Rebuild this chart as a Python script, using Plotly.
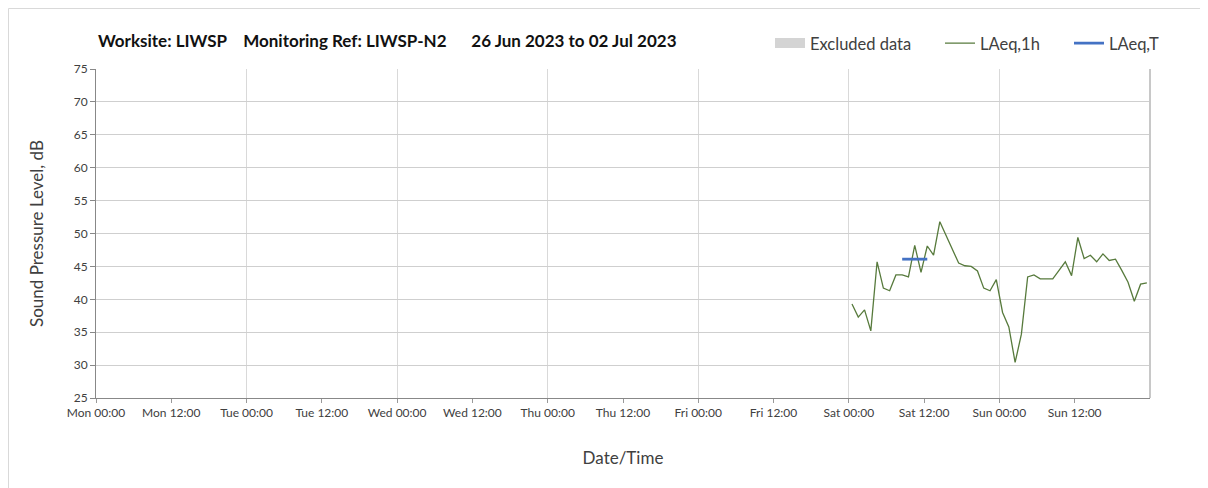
import plotly.graph_objects as go
from datetime import datetime, timedelta

# ---- data ----
start_time = "2023-07-01 00:30"
laeq_1h = [39.3, 37.3, 38.4, 35.2, 45.7, 41.7, 41.3, 43.7, 43.7, 43.4, 48.2, 44.1,
           48.1, 46.7, 51.8, 49.7, 47.7, 45.5, 45.1, 45.0, 44.3, 41.7, 41.3, 43.0,
           38.0, 35.8, 30.4, 34.7, 43.4, 43.7, 43.1, 43.1, 43.1, 44.4, 45.7, 43.6,
           49.4, 46.2, 46.7, 45.7, 46.9, 45.9, 46.1, 44.4, 42.6, 39.7, 42.3, 42.5]
laeq_t_times = ["2023-07-01 08:30", "2023-07-01 12:30"]
laeq_t_value = 46.1
tick_labels = ["Mon 00:00", "Mon 12:00", "Tue 00:00", "Tue 12:00", "Wed 00:00",
               "Wed 12:00", "Thu 00:00", "Thu 12:00", "Fri 00:00", "Fri 12:00",
               "Sat 00:00", "Sat 12:00", "Sun 00:00", "Sun 12:00"]
y_ticks = [25, 30, 35, 40, 45, 50, 55, 60, 65, 70, 75]

t0 = datetime.strptime(start_time, "%Y-%m-%d %H:%M")
times = [t0 + timedelta(hours=i) for i in range(len(laeq_1h))]
week0 = datetime(2023, 6, 26)
tick_vals = [week0 + timedelta(hours=12 * i) for i in range(len(tick_labels))]
day_vals = [week0 + timedelta(days=i) for i in range(1, 7)]

FONT = "Lato"
PL, PW = 96, 1054  # plot area left / width on screen


def px(xs):
    return (xs - PL) / PW


fig = go.Figure()
fig.add_trace(go.Scatter(x=[None], y=[None], mode="lines", name="Excluded data",
                         line=dict(color="#d4d4d4", width=11), legend="legend"))
fig.add_trace(go.Scatter(x=times, y=laeq_1h, mode="lines", name="LAeq,1h",
                         line=dict(color="#577a3c", width=1.3), legend="legend2"))
fig.add_trace(go.Scatter(x=laeq_t_times, y=[laeq_t_value] * 2, mode="lines", name="LAeq,T",
                         line=dict(color="#4472c4", width=2.8), legend="legend3"))

leg_common = dict(orientation="h", xanchor="left", y=1.078, yanchor="middle",
                  font=dict(size=16.5, color="#404040"),
                  bgcolor="rgba(0,0,0,0)", itemwidth=30)

fig.update_layout(
    width=1200, height=480,
    margin=dict(l=88, r=58, t=61, b=90),
    paper_bgcolor="white", plot_bgcolor="white",
    font=dict(family=FONT, color="#404040"),
    showlegend=True,
    legend=dict(x=px(770), **leg_common),
    legend2=dict(x=px(940), **leg_common),
    legend3=dict(x=px(1069), **leg_common),
    xaxis=dict(
        type="date",
        range=[week0, week0 + timedelta(days=7)],
        tickvals=tick_vals, ticktext=tick_labels,
        tickfont=dict(size=12, color="#404040"),
        ticks="outside", ticklen=4, tickcolor="#999999",
        showgrid=False,
        showline=True, linecolor="#888888", linewidth=1,
        zeroline=False,
        minor=dict(tickvals=day_vals, showgrid=True, gridcolor="#d9d9d9", gridwidth=1, ticks=""),
        title=dict(text="Date/Time", font=dict(size=17, color="#404040"), standoff=32),
    ),
    yaxis=dict(
        range=[25, 75], tickvals=y_ticks,
        tickfont=dict(size=12, color="#404040"),
        ticks="outside", ticklen=5, tickcolor="#888888",
        showgrid=True, gridcolor="#cfcfcf", gridwidth=1,
        showline=True, linecolor="#888888", linewidth=1,
        zeroline=False,
        title=dict(text="Sound Pressure Level, dB", font=dict(size=17, color="#404040"), standoff=25),
    ),
    shapes=[
        dict(type="line", xref="paper", yref="paper", x0=1, x1=1, y0=0, y1=1,
             line=dict(color="#c8c8c8", width=2)),
        dict(type="rect", xref="paper", yref="paper",
             x0=px(8.5), x1=1.2, y0=-0.5, y1=(398 - 8.5) / 329,
             line=dict(color="#d9d9d9", width=1), layer="below"),
    ],
    annotations=[
        dict(text="<b>Worksite: LIWSP\u00a0\u00a0\u00a0\u00a0Monitoring Ref: LIWSP-N2\u00a0\u00a0\u00a0\u00a0\u00a0\u00a026 Jun 2023 to 02 Jul 2023</b>",
             xref="paper", yref="paper", x=0, xanchor="left", y=(398 - 40) / 329, yanchor="middle",
             showarrow=False, font=dict(size=17, color="#111111", family=FONT)),
    ],
)

fig.write_html("out.html")
